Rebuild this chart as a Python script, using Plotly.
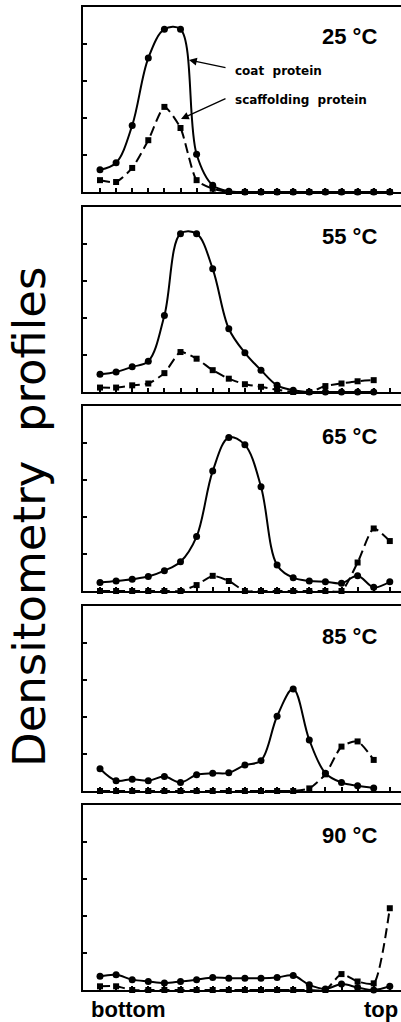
import plotly.graph_objects as go

# ---------------- data ----------------
temps = ["25 °C", "55 °C", "65 °C", "85 °C", "90 °C"]

coat_25 = [0.60, 0.79, 1.80, 3.62, 4.40, 4.40, 1.02, 0.18, 0.02, 0, 0, 0, 0, 0, 0, 0, 0, 0, 0]
scaf_25 = [0.32, 0.27, 0.65, 1.40, 2.30, 1.73, 0.32, 0.09, 0, 0, 0, 0, 0, 0, 0, 0, 0, 0, 0]

coat_55 = [0.48, 0.54, 0.68, 0.83, 2.07, 4.28, 4.28, 3.33, 1.71, 1.06, 0.59, 0.18, 0.05, 0, 0, 0, 0, 0]
scaf_55 = [0.12, 0.12, 0.18, 0.23, 0.51, 1.08, 0.90, 0.59, 0.36, 0.21, 0.14, 0.06, 0, 0, 0.16, 0.23, 0.29, 0.32]

coat_65 = [0.23, 0.27, 0.32, 0.39, 0.55, 0.79, 1.47, 3.24, 4.15, 3.95, 2.82, 0.70, 0.36, 0.27, 0.25, 0.21, 0.41, 0.10, 0.25]
scaf_65 = [0, 0, 0, 0, 0, 0, 0.16, 0.41, 0.27, 0, 0, 0, 0, 0, 0, 0, 0.77, 1.69, 1.35]

coat_85 = [0.60, 0.28, 0.32, 0.28, 0.39, 0.23, 0.44, 0.48, 0.49, 0.70, 0.82, 2.02, 2.76, 1.38, 0.48, 0.23, 0.14, 0.08]
scaf_85 = [0, 0, 0, 0, 0, 0, 0, 0, 0, 0, 0, 0, 0, 0.07, 0.45, 1.20, 1.34, 0.84]

coat_90 = [0.37, 0.41, 0.28, 0.23, 0.19, 0.23, 0.28, 0.34, 0.32, 0.32, 0.32, 0.34, 0.39, 0.14, 0.03, 0.16, 0.07, 0, 0.10]
scaf_90 = [0.10, 0.10, 0, 0, 0, 0, 0, 0, 0, 0, 0, 0, 0, 0, 0, 0.43, 0.23, 0.18, 2.21]

coat_series = [coat_25, coat_55, coat_65, coat_85, coat_90]
scaf_series = [scaf_25, scaf_55, scaf_65, scaf_85, scaf_90]

y_ticks = [1, 2, 3, 4]
end_labels = ["bottom", "top"]
legend_labels = ["coat  protein", "scaffolding  protein"]
y_title = "Densitometry\u00a0\u00a0profiles"

# ---------------- layout geometry ----------------
W, H = 401, 1022
L = 83
PLOT_W = W - L
panel_bottoms = [192, 392, 591, 791, 990]
PANEL_H = 185
UNIT_PX = 37.0
X0_PX, DX_PX = 100.0, 16.1


def px_x(px):
    return (px - L) / PLOT_W


def px_y(py):
    return 1 - py / H


x_min = -(X0_PX - L) / DX_PX
x_max = x_min + PLOT_W / DX_PX
y_max = PANEL_H / UNIT_PX

fig = go.Figure()
layout = dict(
    width=W, height=H,
    margin=dict(l=L, r=0, t=0, b=0),
    paper_bgcolor="white", plot_bgcolor="white",
    showlegend=False,
    font=dict(family="Liberation Sans, Arial", color="black"),
)
annotations = []

for k in range(5):
    n = "" if k == 0 else str(k + 1)
    xa, ya = "x" + n, "y" + n
    scaf = scaf_series[k]
    coat = coat_series[k]
    fig.add_trace(go.Scatter(
        x=list(range(len(scaf))), y=scaf, xaxis=xa, yaxis=ya,
        mode="lines+markers", cliponaxis=False,
        line=dict(color="black", width=2, dash="10px,5px", shape="spline", smoothing=0.6),
        marker=dict(symbol="square", size=6, color="black"),
    ))
    fig.add_trace(go.Scatter(
        x=list(range(len(coat))), y=coat, xaxis=xa, yaxis=ya,
        mode="lines+markers", cliponaxis=False,
        line=dict(color="black", width=2, shape="spline", smoothing=1.0),
        marker=dict(symbol="circle", size=7, color="black"),
    ))
    bot = panel_bottoms[k]
    top = bot - PANEL_H
    layout["xaxis" + n] = dict(
        domain=[0, 1], range=[x_min, x_max], anchor=ya,
        showline=True, linecolor="black", linewidth=2, mirror=True,
        ticks="inside", ticklen=4, tickwidth=1.5, tickcolor="black",
        tickvals=list(range(20)), showticklabels=False,
        showgrid=False, zeroline=False,
    )
    layout["yaxis" + n] = dict(
        domain=[px_y(bot), px_y(top)], range=[0, y_max], anchor=xa,
        showline=True, linecolor="black", linewidth=2, mirror=False,
        ticks="inside", ticklen=4, tickwidth=1.5, tickcolor="black",
        tickvals=y_ticks, showticklabels=False,
        showgrid=False, zeroline=False,
    )
    annotations.append(dict(
        text="<b>%s</b>" % temps[k], xref="paper", yref="paper",
        x=px_x(349), y=px_y(top + 30), xanchor="center", yanchor="middle",
        showarrow=False, font=dict(size=22, family="Liberation Sans, Arial"),
    ))

# legend-like labels with arrows in first panel
annotations.append(dict(
    text="<b>%s</b>" % legend_labels[0], xref="paper", yref="paper",
    x=px_x(233), y=px_y(71), xanchor="left", yanchor="middle", showarrow=False,
    font=dict(size=12, family="DejaVu Sans"),
))
annotations.append(dict(
    text="<b>%s</b>" % legend_labels[1], xref="paper", yref="paper",
    x=px_x(233), y=px_y(100), xanchor="left", yanchor="middle", showarrow=False,
    font=dict(size=12, family="DejaVu Sans"),
))
annotations.append(dict(
    text="", xref="paper", yref="paper", x=px_x(189), y=px_y(60),
    ax=38, ay=8, showarrow=True, arrowhead=2, arrowsize=1.2, arrowwidth=1.3,
    arrowcolor="black",
))
annotations.append(dict(
    text="", xref="paper", yref="paper", x=px_x(181), y=px_y(119),
    ax=46, ay=-21, showarrow=True, arrowhead=2, arrowsize=1.2, arrowwidth=1.3,
    arrowcolor="black",
))

# end labels
annotations.append(dict(
    text="<b>%s</b>" % end_labels[0], xref="paper", yref="paper",
    x=px_x(89), y=px_y(1009), xanchor="left", yanchor="middle", showarrow=False,
    font=dict(size=22, family="Liberation Sans, Arial"),
))
annotations.append(dict(
    text="<b>%s</b>" % end_labels[1], xref="paper", yref="paper",
    x=px_x(400), y=px_y(1009), xanchor="right", yanchor="middle", showarrow=False,
    font=dict(size=22, family="Liberation Sans, Arial"),
))

# y title
annotations.append(dict(
    text=y_title, xref="paper", yref="paper",
    x=px_x(29), y=px_y(517), xanchor="center", yanchor="middle",
    textangle=-90, showarrow=False,
    font=dict(size=45, family="DejaVu Sans"),
))

layout["annotations"] = annotations
fig.update_layout(**layout)
fig.write_html(
    "out.html",
    config={"displayModeBar": False},
    post_script="document.body.style.margin='0';document.body.style.overflow='hidden';",
)
